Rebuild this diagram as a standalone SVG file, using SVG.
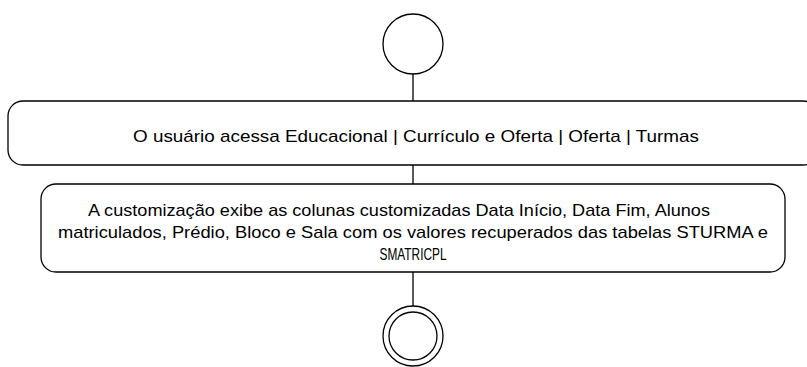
<svg xmlns="http://www.w3.org/2000/svg" width="807" height="367" viewBox="0 0 807 367">
<style>
.n{fill:#fff;stroke:#000;stroke-width:1.3}
.c{stroke:#000;stroke-width:1.3;fill:none}
.t{font-family:"Liberation Sans Narrow","Liberation Sans",Arial,sans-serif;font-size:17px;fill:#000;text-anchor:middle}
</style>
<rect width="807" height="367" fill="#fff"/>
<g id="connectors">
<line class="c" x1="413" y1="74" x2="413" y2="101"/>
<line class="c" x1="413" y1="165" x2="413" y2="184"/>
<line class="c" x1="413" y1="272" x2="413" y2="306"/>
</g>
<g id="start">
<circle class="n" cx="413" cy="44" r="30"/>
</g>
<g id="step1">
<rect class="n" x="8" y="101" width="810" height="64" rx="15"/>
<text class="t" x="416" y="142" textLength="566" lengthAdjust="spacingAndGlyphs">O usuário acessa Educacional | Currículo e Oferta | Oferta | Turmas</text>
</g>
<g id="step2">
<rect class="n" x="41" y="184" width="744" height="88" rx="15"/>
<text class="t" x="399" y="216" textLength="622" lengthAdjust="spacingAndGlyphs">A customização exibe as colunas customizadas Data Início, Data Fim, Alunos</text>
<text class="t" x="413" y="238" textLength="710" lengthAdjust="spacingAndGlyphs">matriculados, Prédio, Bloco e Sala com os valores recuperados das tabelas STURMA e</text>
<text class="t" x="413" y="260" textLength="67" lengthAdjust="spacingAndGlyphs">SMATRICPL</text>
</g>
<g id="end">
<circle class="n" cx="413" cy="336" r="30"/>
<circle class="n" cx="413" cy="336" r="24"/>
</g>
</svg>
